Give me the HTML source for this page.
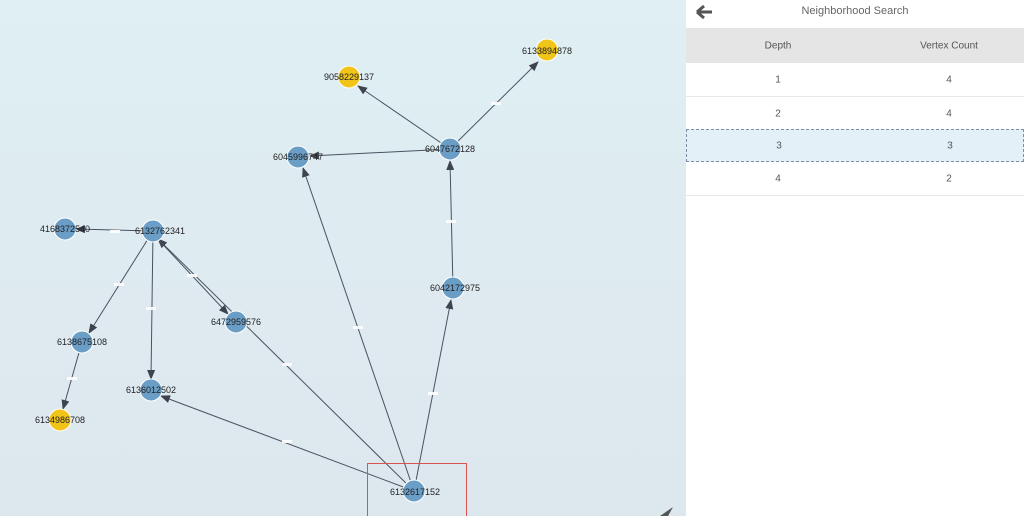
<!DOCTYPE html>
<html><head><meta charset="utf-8"><style>
html,body{margin:0;padding:0;width:1024px;height:516px;overflow:hidden;font-family:"Liberation Sans",sans-serif}
#g{position:absolute;left:0;top:0;width:686px;height:516px;background:linear-gradient(#dfeff3,#dde7ee)}
#p{position:absolute;left:686px;top:0;width:338px;height:516px;background:#fff}
.row{position:absolute;left:0;width:338px;height:33px;border-bottom:1px solid #e8e8e8;font-size:10px;color:#555}
.row span{position:absolute;top:50%;transform:translate(-50%,-50%)}
</style></head><body>
<div id="g">
<svg width="686" height="516" style="position:absolute;left:0;top:0">
<defs><marker id="a" markerWidth="10" markerHeight="8" refX="9" refY="4" orient="auto" markerUnits="userSpaceOnUse"><path d="M0,0L10,4L0,8z" fill="#3d4450"/></marker></defs>
<g stroke="#4a5260" stroke-width="1" fill="none" marker-end="url(#a)">
<line x1="414" y1="491" x2="161" y2="396"/>
<line x1="414" y1="491" x2="303" y2="168"/>
<line x1="414" y1="491" x2="451" y2="300"/>
<line x1="414" y1="491" x2="158" y2="239"/>
<line x1="453" y1="288" x2="450" y2="161"/>
<line x1="450" y1="149" x2="310" y2="156"/>
<line x1="450" y1="149" x2="358" y2="86"/>
<line x1="450" y1="149" x2="538" y2="62"/>
<line x1="153" y1="231" x2="76" y2="229"/>
<line x1="153" y1="231" x2="89" y2="333"/>
<line x1="153" y1="231" x2="151" y2="379"/>
<line x1="155" y1="236" x2="228" y2="314"/>
<line x1="82" y1="342" x2="63" y2="409"/>
</g>
<g fill="#fff" opacity="0.9">
<rect x="282" y="440" width="10" height="3"/><rect x="353" y="326" width="10" height="3"/><rect x="428" y="392" width="10" height="3"/>
<rect x="282" y="363" width="10" height="3"/><rect x="446" y="220" width="10" height="3"/><rect x="491" y="102" width="10" height="3"/>
<rect x="110" y="230" width="10" height="3"/><rect x="114" y="283" width="10" height="3"/><rect x="146" y="307" width="10" height="3"/>
<rect x="187" y="274" width="10" height="3"/><rect x="67" y="377" width="10" height="3"/>
</g>
<g fill="#6b9ec6" stroke="#fff" stroke-width="1">
<circle cx="414" cy="491" r="11"/><circle cx="453" cy="288" r="11"/><circle cx="450" cy="149" r="11"/>
<circle cx="298" cy="157" r="11"/><circle cx="153" cy="231" r="11"/><circle cx="65" cy="229" r="11"/>
<circle cx="236" cy="322" r="11"/><circle cx="82" cy="342" r="11"/><circle cx="151" cy="390" r="11"/>
</g>
<g fill="#f0c419" stroke="#fff" stroke-width="1">
<circle cx="547" cy="50" r="11"/><circle cx="349" cy="77" r="11"/><circle cx="60" cy="420" r="11"/>
</g>
<g font-family="Liberation Sans,sans-serif" font-size="9" fill="#222" text-anchor="middle">
<text x="415" y="495">6132617152</text><text x="455" y="291">6042172975</text><text x="450" y="152">6047672128</text>
<text x="298" y="160">6045996747</text><text x="160" y="234">6132762341</text><text x="65" y="232">4168372540</text>
<text x="236" y="325">6472959576</text><text x="82" y="345">6138675108</text><text x="151" y="393">6136012502</text>
<text x="547" y="54">6133894878</text><text x="349" y="80">9058229137</text><text x="60" y="423">6134986708</text>
</g>
<rect x="367.5" y="463.5" width="99" height="53" fill="none" stroke="#d9534f" stroke-width="1"/>
<path d="M660,516L673,507L668,516z" fill="#555"/>
</svg>
</div>
<div id="p">
<svg width="20" height="16" style="position:absolute;left:9px;top:4px"><path d="M2,8L9,2M2,8L9,14M2,8H17" stroke="#555" stroke-width="3" fill="none"/></svg>
<div style="position:absolute;left:0;width:338px;top:5px;text-align:center;font-size:11px;color:#666">Neighborhood Search</div>
<div class="row" style="top:28px;height:35px;background:#e5e5e5;border:none"><span style="left:92px">Depth</span><span style="left:263px">Vertex Count</span></div>
<div class="row" style="top:63px"><span style="left:92px">1</span><span style="left:263px">4</span></div>
<div class="row" style="top:97px"><span style="left:92px">2</span><span style="left:263px">4</span></div>
<div class="row" style="top:129px;height:31px;background:#e3f0f8;border:1px dashed #7a8fa5;width:336px"><span style="left:92px">3</span><span style="left:263px">3</span></div>
<div class="row" style="top:162px"><span style="left:92px">4</span><span style="left:263px">2</span></div>
</div>
</body></html>
